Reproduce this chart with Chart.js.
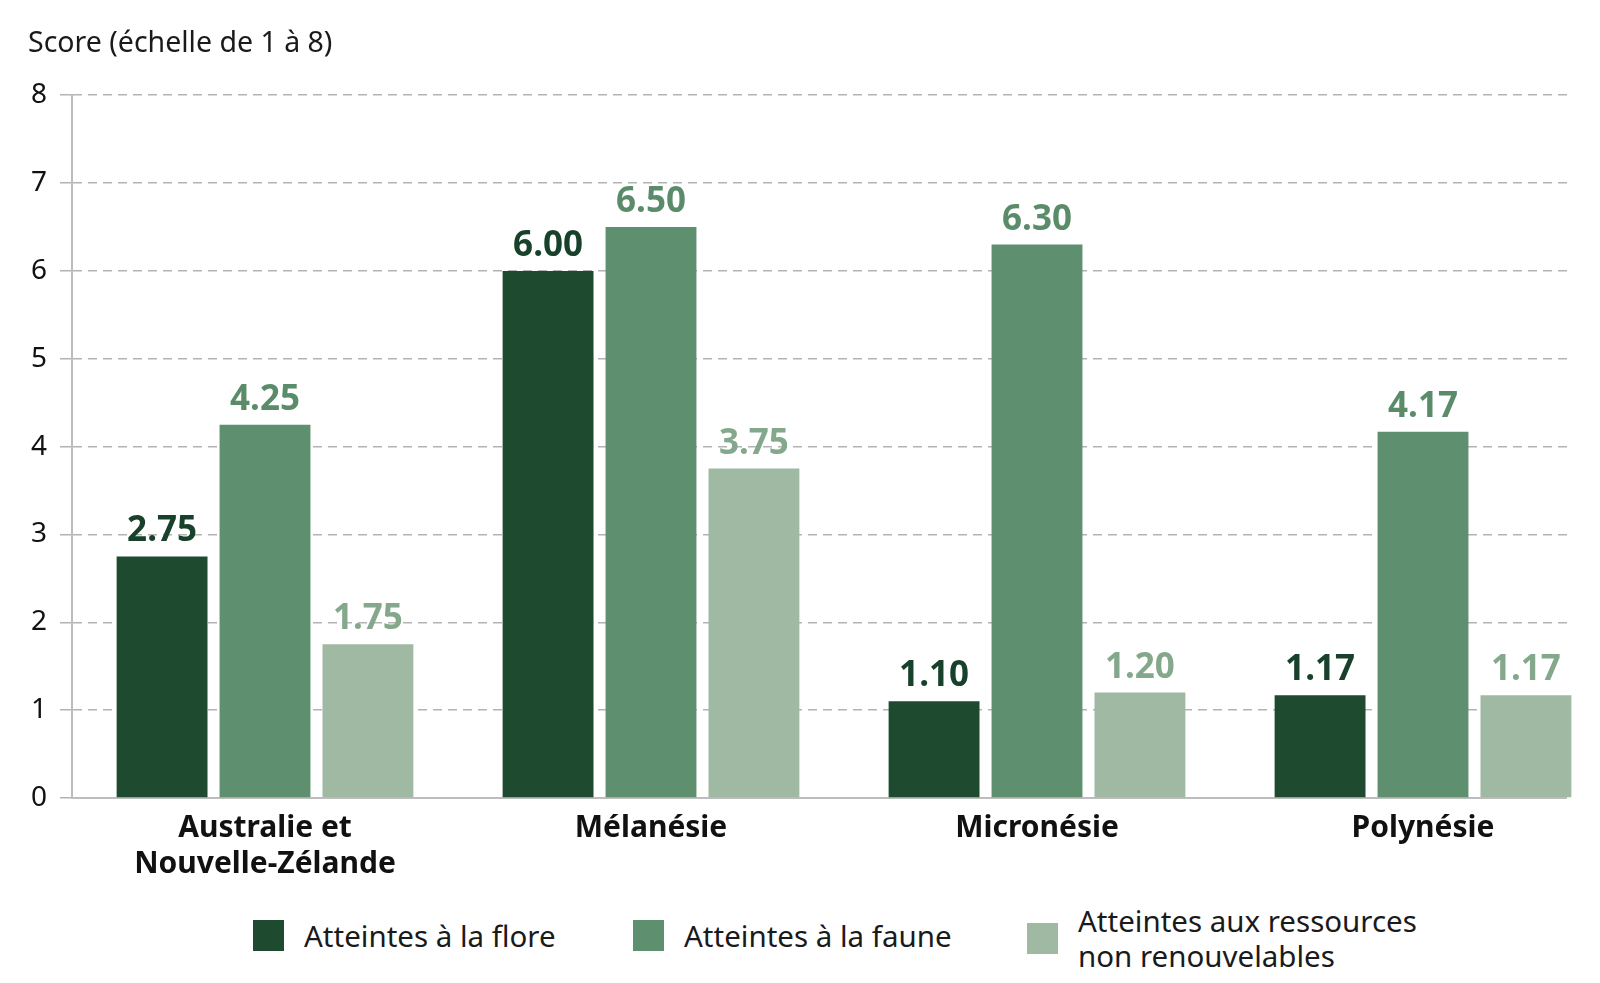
<!DOCTYPE html>
<html lang="fr">

<head>
    <meta charset="UTF-8">
    <title>Score par région</title>
    <script src="https://cdn.jsdelivr.net/npm/chart.js"></script>
    <style>
        body {
            margin: 0;
            background: #ffffff;
            font-family: "Noto Sans", sans-serif;
            overflow: hidden;
        }

        .wrap {
            position: relative;
            width: 1600px;
            height: 983px;
            overflow: hidden;
        }

        .legend .item {
            position: absolute;
            display: flex;
            align-items: center;
            font-size: 29.5px;
            color: #1a1a1a;
            line-height: 35px;
        }

        .legend .box {
            width: 31px;
            height: 31px;
            margin-right: 20px;
            flex: none;
        }
    </style>
</head>

<body>
    <div class="wrap">
        <canvas id="myChart" width="1620" height="894"></canvas>
        <div class="legend" id="legend"></div>
    </div>

    <script>
        // données
        const regions = [['Australie et', 'Nouvelle-Zélande'], 'Mélanésie', 'Micronésie', 'Polynésie'];
        const flore = [2.75, 6.00, 1.10, 1.17];
        const faune = [4.25, 6.50, 6.30, 4.17];
        const ressources = [1.75, 3.75, 1.20, 1.17];
        const seriesNames = ['Atteintes à la flore', 'Atteintes à la faune', ['Atteintes aux ressources', 'non renouvelables']];
        const yTicks = [0, 1, 2, 3, 4, 5, 6, 7, 8];

        const barColors = ['#1e4a2f', '#5e8f6e', '#a0b9a3'];
        const labelColors = ['#17412a', '#5a8c6a', '#84a88b'];
        const legendLeft = [253, 633, 1027];

        // valeurs au-dessus des barres
        const valueLabels = {
            id: 'valueLabels',
            afterDatasetsDraw(chart) {
                const ctx = chart.ctx;
                ctx.save();
                ctx.font = 'bold 35px "Noto Sans"';
                ctx.textAlign = 'center';
                ctx.textBaseline = 'alphabetic';
                chart.data.datasets.forEach(function (ds, i) {
                    const meta = chart.getDatasetMeta(i);
                    ctx.fillStyle = labelColors[i];
                    meta.data.forEach(function (bar, j) {
                        ctx.fillText(ds.data[j].toFixed(2), bar.x, bar.y - 15);
                    });
                });
                ctx.restore();
            }
        };

        // la grille s'arrête avant le bord droit
        const cutGrid = {
            id: 'cutGrid',
            beforeDatasetsDraw(chart) {
                const a = chart.chartArea;
                const ctx = chart.ctx;
                ctx.save();
                ctx.fillStyle = '#ffffff';
                ctx.fillRect(1567, a.top - 4, chart.width - 1567, a.bottom - a.top + 8);
                ctx.restore();
            }
        };

        const ctx = document.getElementById('myChart').getContext('2d');
        const myChart = new Chart(ctx, {
            type: 'bar',
            data: {
                labels: regions,
                datasets: [flore, faune, ressources].map(function (d, i) {
                    return {
                        label: Array.isArray(seriesNames[i]) ? seriesNames[i].join(' ') : seriesNames[i],
                        data: d,
                        backgroundColor: barColors[i],
                        categoryPercentage: 0.80,
                        barPercentage: 0.883
                    };
                })
            },
            options: {
                responsive: false,
                animation: false,
                devicePixelRatio: 1,
                layout: {
                    padding: { left: 28, right: 4, top: 0, bottom: 0 }
                },
                plugins: {
                    legend: { display: false },
                    tooltip: { enabled: false },
                    title: {
                        display: true,
                        text: 'Score (échelle de 1 à 8)',
                        align: 'start',
                        color: '#1a1a1a',
                        font: { family: 'Noto Sans', size: 28.5, weight: 'normal', lineHeight: 1.2 },
                        padding: { top: 27, bottom: 34 }
                    }
                },
                scales: {
                    x: {
                        grid: { display: false, drawTicks: false },
                        border: { color: '#bdbdbd', width: 2 },
                        ticks: {
                            color: '#111111',
                            padding: 12,
                            font: { family: 'Noto Sans', size: 30, weight: 'bold', lineHeight: 1.2 }
                        }
                    },
                    y: {
                        min: 0,
                        max: 8,
                        afterBuildTicks(axis) {
                            axis.ticks = yTicks.map(function (v) { return { value: v }; });
                        },
                        afterFit(axis) {
                            axis.width = 44;
                        },
                        grid: {
                            color: '#b3b3b3',
                            lineWidth: 1.5,
                            tickLength: 12,
                            tickBorderDash: []
                        },
                        border: { color: '#bdbdbd', width: 2, dash: [9, 6] },
                        ticks: {
                            color: '#111111',
                            padding: 13,
                            font: { family: 'Noto Sans', size: 28 }
                        }
                    }
                }
            },
            plugins: [cutGrid, valueLabels]
        });

        // légende HTML (troisième libellé sur deux lignes)
        const legend = document.getElementById('legend');
        seriesNames.forEach(function (name, i) {
            const item = document.createElement('div');
            item.className = 'item';
            item.style.left = legendLeft[i] + 'px';
            item.style.top = Array.isArray(name) ? '903px' : '918px';
            const box = document.createElement('div');
            box.className = 'box';
            box.style.background = barColors[i];
            const txt = document.createElement('div');
            txt.innerHTML = Array.isArray(name) ? name.join('<br>') : name;
            item.appendChild(box);
            item.appendChild(txt);
            legend.appendChild(item);
        });
    </script>

</body>

</html>
